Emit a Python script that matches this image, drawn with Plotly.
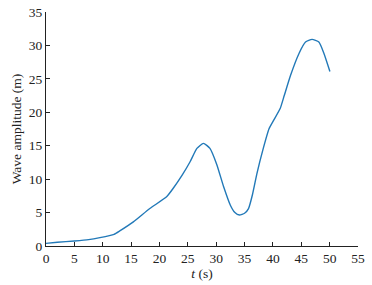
import plotly.graph_objects as go

t = [0, 2, 5, 7.5, 9.5, 12, 13, 15.4, 18.3, 21.3, 22.4, 24, 25.4, 26.6, 27.75, 28.9, 30.1, 31.3, 32.5, 33.3, 34.1,
     35.0, 35.7, 36.4, 37.2, 38.3, 39.3, 40, 41.3, 42, 43.1, 44.6, 45.75, 46.9, 48.1, 49.0, 50.05]
amp = [0.4, 0.55, 0.75, 0.95, 1.25, 1.75, 2.25, 3.6, 5.6, 7.4, 8.6, 10.6, 12.6, 14.6, 15.35, 14.6, 12.2, 8.9, 6.1, 5.0, 4.63,
       4.9, 5.6, 7.7, 10.9, 14.6, 17.5, 18.6, 20.6, 22.5, 25.5, 28.8, 30.5, 30.9, 30.5, 28.8, 26.1]
xticks = [0, 5, 10, 15, 20, 25, 30, 35, 40, 45, 50, 55]
yticks = [0, 5, 10, 15, 20, 25, 30, 35]

fig = go.Figure()
fig.add_trace(go.Scatter(x=t, y=amp, mode="lines",
                         line=dict(color="#2279b8", width=1.4, shape="spline", smoothing=0.5),
                         showlegend=False, hoverinfo="skip"))

font = dict(family="Liberation Serif, Times New Roman, serif", size=13.5, color="#222")
axis_common = dict(showgrid=False, zeroline=False, showline=True, linecolor="#222", linewidth=1,
                   ticks="inside", ticklen=4, tickcolor="#222", tickfont=font, automargin=False)
fig.update_layout(
    width=372, height=285,
    margin=dict(l=46, r=14, t=12, b=39),
    paper_bgcolor="white", plot_bgcolor="white",
    xaxis=dict(range=[0, 55], tickvals=xticks, ticktext=[str(v) for v in xticks],
               title=dict(text="<i>t</i> (s)", font=font, standoff=2), **axis_common),
    yaxis=dict(range=[0, 35], tickvals=yticks, ticktext=[str(v) for v in yticks],
               title=dict(text="Wave amplitude (m)", font=font, standoff=4), **axis_common),
)
fig.write_html("out.html", config={"displayModeBar": False},
               post_script="document.body.style.margin='0';document.body.style.overflow='hidden';")
